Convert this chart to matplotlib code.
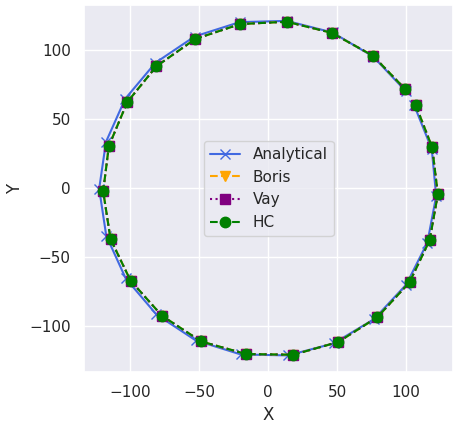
import numpy as np
import matplotlib.pyplot as plt
import seaborn as sns

sns.set_theme()

# ---------- data ----------
ana_x = [105.9, 118.6, 121.8, 115.4, 100.1, 76.8, 47.5, 14.5, -19.7, -52.4,
         -80.9, -103.1, -117.2, -122.3, -117.4, -103.5, -81.6, -53.2, -20.6,
         13.6, 46.7, 76.1, 99.6]
ana_y = [60.0, 28.3, -5.7, -39.4, -69.8, -94.8, -112.4, -121.1, -120.4, -110.2,
         -91.4, -65.3, -34.3, -0.4, 33.5, 64.7, 90.8, 109.9, 120.3,
         121.2, 112.8, 95.4, 70.5]

hc_x = [106.9, 118.9, 123.0, 117.0, 102.5, 79.2, 50.8, 18.3, -15.9, -48.4,
        -76.8, -99.6, -114.1, -119.4, -115.3, -102.0, -80.9, -52.7, -20.2,
        13.5, 46.0, 76.0, 99.4]
hc_y = [60.4, 29.6, -4.5, -37.8, -68.1, -93.4, -111.4, -120.6, -120.1, -111.0,
        -92.4, -66.9, -36.8, -2.2, 30.5, 62.3, 88.3, 108.1, 118.9,
        120.6, 112.6, 96.0, 71.7]

# Boris and Vay sit under HC in the picture
boris_x = list(hc_x)
boris_y = list(hc_y)
vay_x = list(hc_x)
vay_y = list(hc_y)

# ---------- plot ----------
fig = plt.figure(figsize=(4.59, 4.26), dpi=100)
ax = fig.add_axes([0.183, 0.127, 0.804, 0.861])

ax.plot(ana_x, ana_y, '-x', color='royalblue', label='Analytical', markersize=7)
ax.plot(boris_x, boris_y, '--v', color='orange', label='Boris', markersize=7)
ax.plot(vay_x, vay_y, ':s', color='purple', label='Vay', markersize=6.5)
ax.plot(hc_x, hc_y, '--o', color='green', label='HC', markersize=7.5)

ax.set_xlim(-133.3, 134)
ax.set_ylim(-133, 132.6)
ax.set_aspect('equal')
ax.set_xlabel('X')
ax.set_ylabel('Y')
ax.legend(loc='center')

fig.savefig('out.png', dpi=100)
